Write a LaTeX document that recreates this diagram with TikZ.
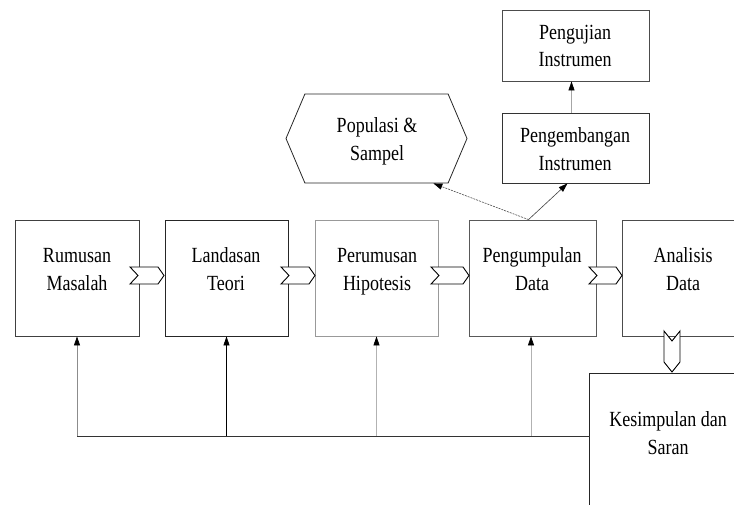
\documentclass[tikz,border=0pt]{standalone}
\usepackage{fontspec}
\setmainfont{Liberation Serif}
\usetikzlibrary{arrows.meta,shapes.symbols,calc}
\newcommand{\lbl}[1]{\scalebox{1}[1.2]{\begin{tabular}{@{}c@{}}#1\end{tabular}}}
\begin{document}
\begin{tikzpicture}[x=1pt,y=-1pt,
  boxn/.style={draw=black!75,line width=0.8pt,inner sep=0pt,minimum width=124pt,minimum height=116pt},
  txt/.style={font=\fontsize{18}{23}\selectfont,inner sep=0pt,align=center},
  chev/.style={draw=black,fill=white,line width=0.9pt,line join=miter},
  tip/.style={-{Triangle[width=6pt,length=9pt,color=black]}},
  fb/.style={tip,line width=0.7pt}]
\useasboundingbox (0,0) rectangle (734,505);
\clip (0,0) rectangle (734,505);
% main boxes
\node[boxn] (r) at (77,278) {};
\node[boxn,minimum width=123pt,draw=black!85] (l) at (226.5,278) {};
\node[boxn,minimum width=123pt,draw=black!40] (p) at (376.5,278) {};
\node[boxn,minimum width=127pt,draw=black!65] (pg) at (532.5,278) {};
\node[boxn,minimum width=124pt,draw=black!70] (a) at (684,278) {};
\node[txt] (tr) at (77,271) {\lbl{Rumusan\\Masalah}};
\node[txt] (tl) at (226,271) {\lbl{Landasan\\Teori}};
\node[txt] (tp) at (377,271) {\lbl{Perumusan\\Hipotesis}};
\node[txt] (tpg) at (532,271) {\lbl{Pengumpulan\\Data}};
\node[txt] (ta) at (683,271) {\lbl{Analisis\\Data}};
% conclusion box (top and left edges visible)
\node[inner sep=0pt,minimum width=150pt,minimum height=140pt] (k) at (665,444) {};
\draw[black!85,line width=0.8pt] (k.south west) -- (k.north west) -- (k.north east);
\node[txt] (tk) at (668,435) {\lbl{Kesimpulan dan\\Saran}};
% upper boxes
\node[shape=signal,signal to=west and east,signal pointer angle=134,draw=black!85,line width=0.8pt,
      inner sep=0pt,minimum width=181pt,minimum height=89pt] (pop) at (376.5,138.5) {};
\node[txt] (tpop) at (377,141) {\lbl{Populasi \&\\Sampel}};
\node[draw=black!80,line width=0.8pt,inner sep=0pt,minimum width=147pt,minimum height=70pt] (pe) at (575.5,148) {};
\node[txt] (tpe) at (575,151) {\lbl{Pengembangan\\Instrumen}};
\node[draw=black!70,line width=0.8pt,inner sep=0pt,minimum width=147pt,minimum height=71pt] (pu) at (575.5,45.5) {};
\node[txt] (tpu) at (575,47.5) {\lbl{Pengujian\\Instrumen}};
% upper arrows
\draw[tip,black!70,line width=0.6pt,dash pattern=on 2pt off 1pt] ([xshift=-4pt]pg.north) -- ([xshift=-15pt]pop.south east);
\draw[tip,black!75,line width=0.6pt] ([xshift=-4pt]pg.north) -- ([xshift=-8pt]pe.south);
\draw[tip,black!35,line width=0.6pt] ([xshift=-4pt]pe.north) -- ([xshift=-4pt]pu.south);
% chevrons
\draw[chev] (130,267) -- (158,267) -- (164,275.5) -- (158,284) -- (130,284) -- (138,275.5) -- cycle;
\draw[chev] (281,267) -- (309,267) -- (315,275.5) -- (309,284) -- (281,284) -- (289,275.5) -- cycle;
\draw[chev] (431,267) -- (463,267) -- (469,275.5) -- (463,284) -- (431,284) -- (439,275.5) -- cycle;
\draw[chev] (589,267) -- (616,267) -- (622,275.5) -- (616,284) -- (589,284) -- (597,275.5) -- cycle;
\draw[chev] (664,331) -- (672,341) -- (680,331) -- (680,362) -- (672,372) -- (664,362) -- cycle;
% feedback bus
\coordinate (bus) at (77,436);
\draw[black!80,line width=0.8pt] (bus) -- (bus -| k.west);
\draw[fb,black!45] (r.south |- bus) -- (r.south);
\draw[fb,black] (l.south |- bus) -- (l.south);
\draw[fb,black!30] (p.south |- bus) -- (p.south);
\draw[fb,black!30] ([xshift=-1.5pt]pg.south |- bus) -- ([xshift=-1.5pt]pg.south);
\end{tikzpicture}
\end{document}
